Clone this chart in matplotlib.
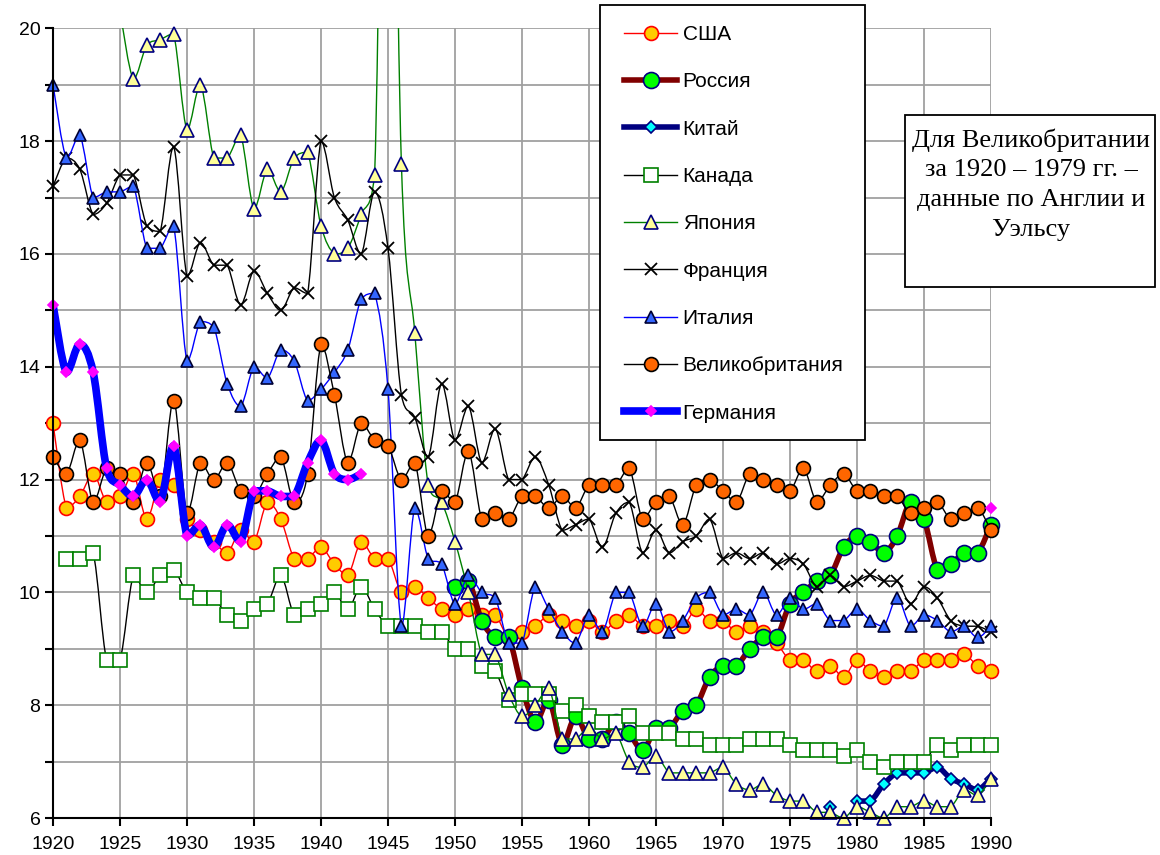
import numpy as np
import matplotlib
matplotlib.use('Agg')
import matplotlib.pyplot as plt
from matplotlib.path import Path
from matplotlib.patches import PathPatch, Rectangle
from matplotlib.lines import Line2D
from matplotlib.ticker import MultipleLocator, FuncFormatter

plt.rcParams['font.family'] = ['Liberation Sans', 'DejaVu Sans']

nan = np.nan
years = list(range(1920, 1991))

usa = [13.0, 11.5, 11.7, 12.1, 11.6, 11.7, 12.1, 11.3, 12.0, 11.9,
       11.3, 11.1, 10.9, 10.7, 11.1, 10.9, 11.6, 11.3, 10.6, 10.6,
       10.8, 10.5, 10.3, 10.9, 10.6, 10.6, 10.0, 10.1, 9.9, 9.7,
       9.6, 9.7, 9.6, 9.6, 9.2, 9.3, 9.4, 9.6, 9.5, 9.4,
       9.5, 9.3, 9.5, 9.6, 9.4, 9.4, 9.5, 9.4, 9.7, 9.5,
       9.5, 9.3, 9.4, 9.3, 9.1, 8.8, 8.8, 8.6, 8.7, 8.5,
       8.8, 8.6, 8.5, 8.6, 8.6, 8.8, 8.8, 8.8, 8.9, 8.7,
       8.6]

russia = [nan] * 30 + [
    10.1, 10.2, 9.5, 9.2, 9.2, 8.3, 7.7, 8.1, 7.3, 7.8,
    7.4, 7.4, 7.7, 7.5, 7.2, 7.6, 7.6, 7.9, 8.0, 8.5,
    8.7, 8.7, 9.0, 9.2, 9.2, 9.8, 10.0, 10.2, 10.3, 10.8,
    11.0, 10.9, 10.7, 11.0, 11.6, 11.3, 10.4, 10.5, 10.7, 10.7,
    11.2]

china = [nan] * 58 + [6.2, nan, 6.3, 6.3, 6.6, 6.8, 6.8, 6.8, 6.9, 6.7,
                      6.6, 6.5, 6.7]

canada = [nan, 10.6, 10.6, 10.7, 8.8, 8.8, 10.3, 10.0, 10.3, 10.4,
          10.0, 9.9, 9.9, 9.6, 9.5, 9.7, 9.8, 10.3, 9.6, 9.7,
          9.8, 10.0, 9.7, 10.1, 9.7, 9.4, 9.4, 9.4, 9.3, 9.3,
          9.0, 9.0, 8.7, 8.6, 8.1, 8.2, 8.2, 8.2, 7.9, 8.0,
          7.8, 7.7, 7.7, 7.8, 7.5, 7.5, 7.5, 7.4, 7.4, 7.3,
          7.3, 7.3, 7.4, 7.4, 7.4, 7.3, 7.2, 7.2, 7.2, 7.1,
          7.2, 7.0, 6.9, 7.0, 7.0, 7.0, 7.3, 7.2, 7.3, 7.3,
          7.3]

japan = [nan, nan, nan, nan, nan, 20.3, 19.1, 19.7, 19.8, 19.9,
         18.2, 19.0, 17.7, 17.7, 18.1, 16.8, 17.5, 17.1, 17.7, 17.8,
         16.5, 16.0, 16.1, 16.7, 17.4, 29.2, 17.6, 14.6, 11.9, 11.6,
         10.9, 10.0, 8.9, 8.9, 8.2, 7.8, 8.0, 8.3, 7.4, 7.4,
         7.6, 7.4, 7.5, 7.0, 6.9, 7.1, 6.8, 6.8, 6.8, 6.8,
         6.9, 6.6, 6.5, 6.6, 6.4, 6.3, 6.3, 6.1, 6.1, 6.0,
         6.2, 6.1, 6.0, 6.2, 6.2, 6.3, 6.2, 6.2, 6.5, 6.4,
         6.7]

france = [17.2, 17.7, 17.5, 16.7, 16.9, 17.4, 17.4, 16.5, 16.4, 17.9,
          15.6, 16.2, 15.8, 15.8, 15.1, 15.7, 15.3, 15.0, 15.4, 15.3,
          18.0, 17.0, 16.6, 16.0, 17.1, 16.1, 13.5, 13.1, 12.4, 13.7,
          12.7, 13.3, 12.3, 12.9, 12.0, 12.0, 12.4, 11.9, 11.1, 11.2,
          11.3, 10.8, 11.4, 11.6, 10.7, 11.1, 10.7, 10.9, 11.0, 11.3,
          10.6, 10.7, 10.6, 10.7, 10.5, 10.6, 10.5, 10.1, 10.3, 10.1,
          10.2, 10.3, 10.2, 10.2, 9.8, 10.1, 9.9, 9.5, 9.4, 9.4,
          9.3]

italy = [19.0, 17.7, 18.1, 17.0, 17.1, 17.1, 17.2, 16.1, 16.1, 16.5,
         14.1, 14.8, 14.7, 13.7, 13.3, 14.0, 13.8, 14.3, 14.1, 13.4,
         13.6, 13.9, 14.3, 15.2, 15.3, 13.6, 9.4, 11.5, 10.6, 10.5,
         9.8, 10.3, 10.0, 9.9, 9.1, 9.1, 10.1, 9.7, 9.3, 9.1,
         9.6, 9.3, 10.0, 10.0, 9.4, 9.8, 9.3, 9.5, 9.9, 10.0,
         9.6, 9.7, 9.6, 10.0, 9.6, 9.9, 9.7, 9.8, 9.5, 9.5,
         9.7, 9.5, 9.4, 9.9, 9.4, 9.6, 9.5, 9.3, 9.4, 9.2,
         9.4]

britain = [12.4, 12.1, 12.7, 11.6, 12.2, 12.1, 11.6, 12.3, 11.7, 13.4,
           11.4, 12.3, 12.0, 12.3, 11.8, 11.7, 12.1, 12.4, 11.6, 12.1,
           14.4, 13.5, 12.3, 13.0, 12.7, 12.6, 12.0, 12.3, 11.0, 11.8,
           11.6, 12.5, 11.3, 11.4, 11.3, 11.7, 11.7, 11.5, 11.7, 11.5,
           11.9, 11.9, 11.9, 12.2, 11.3, 11.6, 11.7, 11.2, 11.9, 12.0,
           11.8, 11.6, 12.1, 12.0, 11.9, 11.8, 12.2, 11.6, 11.9, 12.1,
           11.8, 11.8, 11.7, 11.7, 11.4, 11.5, 11.6, 11.3, 11.4, 11.5,
           11.1]

germany = [15.1, 13.9, 14.4, 13.9, 12.2, 11.9, 11.7, 12.0, 11.6, 12.6,
           11.0, 11.2, 10.8, 11.2, 10.9, 11.8, 11.8, 11.7, 11.7, 12.3,
           12.7, 12.1, 12.0, 12.1] + [nan] * 46 + [11.5]

labels = ['США', 'Россия', 'Китай', 'Канада', 'Япония', 'Франция',
          'Италия', 'Великобритания', 'Германия']

# line colour, line width, marker, marker size, face, edge
styles = [
    (usa, '#FF0000', 1.0, 'o', 10, '#FFCC00', '#FF0000'),
    (russia, '#800000', 4.0, 'o', 11.5, '#00FF00', '#000080'),
    (china, '#000080', 4.0, 'D', 6.5, '#00FFFF', '#000080'),
    (canada, '#000000', 1.0, 's', 10, '#FFFFFF', '#008000'),
    (japan, '#008000', 1.0, '^', 10, '#FFFF99', '#000080'),
    (france, '#000000', 1.0, 'x', 9, '#000000', '#000000'),
    (italy, '#0000FF', 1.0, '^', 9, '#3366FF', '#000033'),
    (britain, '#000000', 1.0, 'o', 10, '#FF6600', '#000000'),
    (germany, '#0000FF', 5.5, 'D', 5.5, '#FF00FF', '#FF00FF'),
]


def smooth_path(xs, ys):
    # bezier curve through the points, like a smoothed excel line
    n = len(xs)
    verts = [(xs[0], ys[0])]
    codes = [Path.MOVETO]
    for i in range(n - 1):
        x0, y0 = (xs[i - 1], ys[i - 1]) if i > 0 else (xs[i], ys[i])
        x1, y1 = xs[i], ys[i]
        x2, y2 = xs[i + 1], ys[i + 1]
        x3, y3 = (xs[i + 2], ys[i + 2]) if i + 2 < n else (x2, y2)
        lo, hi = min(y1, y2), max(y1, y2)
        c1y = min(max(y1 + (y2 - y0) / 6, lo), hi)
        c2y = min(max(y2 - (y3 - y1) / 6, lo), hi)
        verts += [(x1 + (x2 - x0) / 6, c1y), (x2 - (x3 - x1) / 6, c2y), (x2, y2)]
        codes += [Path.CURVE4] * 3
    return Path(verts, codes)


fig = plt.figure(figsize=(11.6, 8.55), dpi=100)
ax = fig.add_axes([53 / 1160, 1 - 818 / 855, 938 / 1160, 789.7 / 855])

handles = []
for k, (vals, lc, lw, mk, ms, fc, ec) in enumerate(styles):
    x = np.array(years, dtype=float)
    y = np.array(vals, dtype=float)
    ok = ~np.isnan(y)
    # split into runs of data
    runs = []
    cur = []
    for xi, yi, o in zip(x, y, ok):
        if o:
            cur.append((xi, yi))
        elif cur:
            runs.append(cur)
            cur = []
    if cur:
        runs.append(cur)
    for r in runs:
        if len(r) > 1:
            rx, ry = zip(*r)
            ax.add_patch(PathPatch(smooth_path(rx, ry), fill=False, edgecolor=lc,
                                   linewidth=lw, capstyle='round', joinstyle='round',
                                   zorder=3 + k))
    mew = 1.3 if mk == 'x' else 1.2
    inside = ok & (y <= 20) & (y >= 6)
    ax.plot(x[inside], y[inside], linestyle='none', marker=mk, markersize=ms,
            markerfacecolor=fc, markeredgecolor=ec, markeredgewidth=mew,
            zorder=3.5 + k, clip_on=False)
    handles.append(Line2D([], [], color=lc, lw=lw, marker=mk, markersize=ms,
                          markerfacecolor=fc, markeredgecolor=ec, markeredgewidth=mew))

ax.set_xlim(1920, 1990)
ax.set_ylim(6, 20)
ax.xaxis.set_major_locator(MultipleLocator(5))
ax.yaxis.set_major_locator(MultipleLocator(1))
ax.yaxis.set_major_formatter(FuncFormatter(lambda v, p: '%d' % v if int(round(v)) % 2 == 0 else ''))
ax.grid(True, color='#A0A0A0', linewidth=1.3, zorder=0)
ax.set_axisbelow(True)
for s in ['top', 'right']:
    ax.spines[s].set_visible(False)
for s in ['left', 'bottom']:
    ax.spines[s].set_linewidth(1.5)
    ax.spines[s].set_zorder(20)
ax.tick_params(axis='both', direction='out', length=6, width=1.5, labelsize=14)
ax.tick_params(axis='x', pad=7)
ax.tick_params(axis='y', pad=3)

# legend box drawn on its own so it sits exactly where the original one is
fig.patches.append(Rectangle((600 / 1160, 1 - 440 / 855), 265 / 1160, 435 / 855,
                             transform=fig.transFigure, facecolor='white',
                             edgecolor='black', linewidth=1.3, zorder=30))
leg = fig.legend(handles, labels, loc='upper left', bbox_to_anchor=(624 / 1160, 1 - 25 / 855),
                 bbox_transform=fig.transFigure, fontsize=15, frameon=False,
                 borderpad=0, handlelength=2.55, handletextpad=0.27,
                 labelspacing=1.36, borderaxespad=0)
leg.set_zorder(31)

fig.patches.append(Rectangle((905 / 1160, 1 - 287 / 855), 250 / 1160, 172 / 855,
                             transform=fig.transFigure, facecolor='white',
                             edgecolor='black', linewidth=1.3, zorder=30))
fig.text(1031 / 1160, 1 - 184.5 / 855,
         'Для Великобритании\nза 1920 – 1979 гг. –\nданные по Англии и\nУэльсу',
         ha='center', va='center', multialignment='center', fontsize=19,
         family=['Liberation Serif', 'DejaVu Serif'], linespacing=1.45, zorder=31)

fig.savefig('out.png', dpi=100)
